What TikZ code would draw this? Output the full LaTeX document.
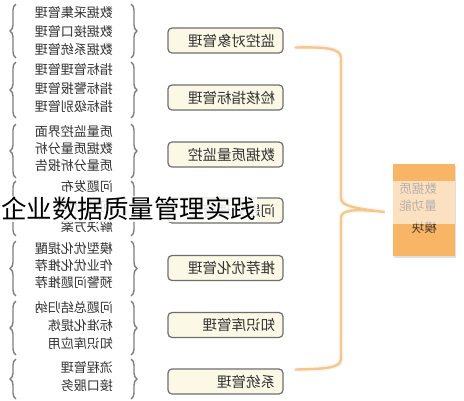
\documentclass[tikz,border=0pt]{standalone}
\usepackage{fontspec}
\setmainfont{Noto Sans CJK SC}
\usepackage{graphicx}
\usetikzlibrary{decorations.pathreplacing,shadows}
\definecolor{txt}{HTML}{333333}
\definecolor{brc}{HTML}{7E7E7E}
\definecolor{boxfill}{HTML}{FBF9E6}
\definecolor{boxline}{HTML}{6E6E6E}
\definecolor{orng}{HTML}{F8B565}
\definecolor{oline}{HTML}{F5C78E}
\definecolor{otxt}{HTML}{4A3B2C}
\tikzset{
  item/.style={anchor=east, inner sep=0pt, text=txt, font=\fontsize{13}{15}\selectfont},
  lbrace/.style={draw=brc, line width=1.4pt, decorate, decoration={brace, amplitude=6pt}},
  mbox/.style={draw=boxline, line width=1.2pt, fill=boxfill, rounded corners=4pt,
    minimum width=115pt, minimum height=25pt, inner xsep=8pt, text width=99pt, align=right,
    text=txt, font=\fontsize{14.5}{16}\selectfont},
  rtext/.style={anchor=east, inner sep=0pt, text=otxt, font=\fontsize{12.5}{14}\selectfont},
  obrace/.style={draw=oline, line width=2.4pt, line cap=round},
}
\begin{document}
\begin{tikzpicture}[x=1pt,y=-1pt]
\useasboundingbox (0,0) rectangle (464,400);
\fill[white] (0,0) rectangle (464,400);

% left groups: braces
\foreach \t/\b [count=\i] in {4/58, 62/118, 124/178, 181/236, 241/296, 301/355, 359/399}{
  \draw[lbrace] (16,\b) -- (16,\t);
  \draw[lbrace] (131,\t) -- (131,\b);
}

% left group texts
\node[item] (a1) at (113,13) {\reflectbox{数据采集管理}};
\node[item] (a2) at (113,32) {\reflectbox{数据接口管理}};
\node[item] (a3) at (113,50) {\reflectbox{数据系统管理}};
\node[item] (b1) at (113,70) {\reflectbox{指标管理管理}};
\node[item] (b2) at (113,89) {\reflectbox{指标警报管理}};
\node[item] (b3) at (113,107) {\reflectbox{指标级别管理}};
\node[item] (c1) at (113,132) {\reflectbox{质量监控界面}};
\node[item] (c2) at (113,149) {\reflectbox{数据质量分析}};
\node[item] (c3) at (113,166) {\reflectbox{质量分析报告}};
\node[item] (d1) at (113,187) {\reflectbox{问题发布}};
\node[item] (d2) at (113,207) {\reflectbox{问题跟踪}};
\node[item] (d3) at (113,227) {\reflectbox{解决方案}};
\node[item] (e1) at (113,249) {\reflectbox{模型优化提醒}};
\node[item] (e2) at (113,266) {\reflectbox{作业优化推荐}};
\node[item] (e3) at (113,283) {\reflectbox{预警问题推荐}};
\node[item] (f1) at (113,308) {\reflectbox{问题总结归纳}};
\node[item] (f2) at (113,326) {\reflectbox{标准化提炼}};
\node[item] (f3) at (113,344) {\reflectbox{知识库应用}};
\node[item] (g1) at (113,368) {\reflectbox{流程管理}};
\node[item] (g2) at (113,386) {\reflectbox{接口服务}};

% middle boxes
\node[mbox] (m1) at (225.5,40.5) {\reflectbox{监控对象管理}};
\node[mbox] (m2) at (225.5,97.5) {\reflectbox{检核指标管理}};
\node[mbox] (m3) at (225.5,154.5) {\reflectbox{数据质量监控}};
\node[mbox] (m4) at (225.5,210.5) {\reflectbox{问题处理管理}};
\node[mbox] (m5) at (225.5,268) {\reflectbox{推荐优化管理}};
\node[mbox] (m6) at (225.5,325) {\reflectbox{知识库管理}};
\node[mbox] (m7) at (225.5,381.5) {\reflectbox{系统管理}};

% right module box
\node[fill=orng, minimum width=62pt, minimum height=92pt, inner sep=0pt,
  drop shadow={shadow xshift=0.5pt, shadow yshift=-1.5pt, opacity=0.25}] (rb) at (424,210) {};
\node[rtext] (r1) at (437,189) {\reflectbox{数据质}};
\node[rtext] (r2) at (437,206) {\reflectbox{量功能}};
\node[rtext] (r3) at (437,228) {\reflectbox{模块}};
\fill[white, opacity=0.6] (rb.west |- 0,181) rectangle (rb.east |- 0,224);

% orange brace
\coordinate (ot) at ([xshift=12pt, yshift=-7pt]m1.east);
\coordinate (ob) at ([xshift=12pt, yshift=12pt]m7.east);
\coordinate (oc) at ([xshift=-8pt, yshift=-2pt]rb.west);
\draw[oline, line width=5pt, opacity=0.15]
  (ot) .. controls (325,47) and (341,48) .. (341,58) -- (341,198)
  .. controls (341,205) and (350,208) .. (oc)
  .. controls (350,208) and (341,211) .. (341,218) -- (341,359)
  .. controls (341,368) and (325,369) .. (ob);
\draw[obrace]
  (ot) .. controls (325,47) and (341,48) .. (341,58) -- (341,198)
  .. controls (341,205) and (350,208) .. (oc)
  .. controls (350,208) and (341,211) .. (341,218) -- (341,359)
  .. controls (341,368) and (325,369) .. (ob);

% title overlay
\node[anchor=west, inner xsep=1pt, inner ysep=1pt, fill=white, fill opacity=0.85, text opacity=1,
  text=black, font=\fontsize{25.5}{28}\selectfont] (title) at (0,209) {企业数据质量管理实践};
\end{tikzpicture}
\end{document}
